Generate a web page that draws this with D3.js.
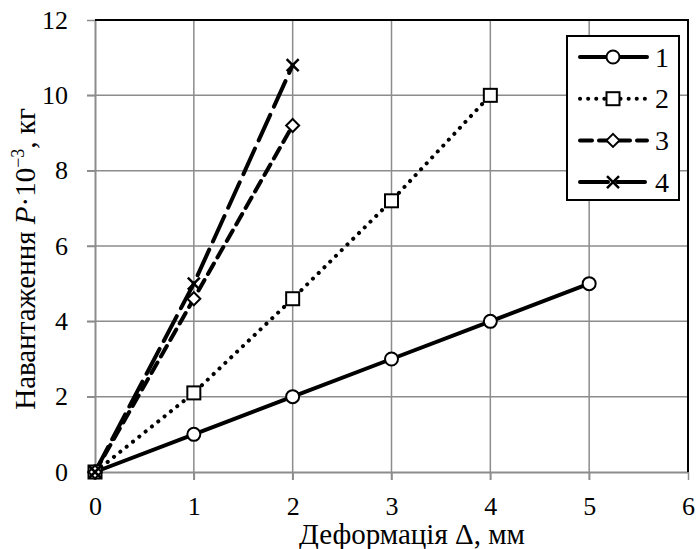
<!DOCTYPE html>
<html>
<head>
<meta charset="UTF-8">
<style>
  body { margin: 0; background: #fff; }
</style>
</head>
<body>
<svg width="700" height="549"></svg>
<script src="https://d3js.org/d3.v7.min.js"></script>
<script>
// дані
var xTicks = [0, 1, 2, 3, 4, 5, 6];
var yTicks = [0, 2, 4, 6, 8, 10, 12];
var seriesNames = ["1", "2", "3", "4"];
var x1 = [0, 1, 2, 3, 4, 5],  y1 = [0, 1, 2, 3, 4, 5];
var x2 = [0, 1, 2, 3, 4],     y2 = [0, 2.1, 4.6, 7.2, 10];
var x3 = [0, 1, 2],           y3 = [0, 4.6, 9.2];
var x4 = [0, 1, 2],           y4 = [0, 5, 10.8];

var svg = d3.select("svg");
var x = d3.scaleLinear().domain([0, 6]).range([95, 688]);
var y = d3.scaleLinear().domain([0, 12]).range([472, 20]);

// сітка
svg.append("g").selectAll("line").data(xTicks.slice(1, -1)).enter().append("line")
  .attr("x1", d => x(d)).attr("x2", d => x(d)).attr("y1", y(12)).attr("y2", y(0) + 8)
  .attr("stroke", "#8c8c8c").attr("stroke-width", 1.5);
svg.append("g").selectAll("line").data(yTicks.slice(1, -1)).enter().append("line")
  .attr("x1", x(0) - 8).attr("x2", x(6)).attr("y1", d => y(d)).attr("y2", d => y(d))
  .attr("stroke", "#8c8c8c").attr("stroke-width", 1.5);

// осі
var xAxis = svg.append("g").attr("transform", "translate(0," + y(0) + ")")
  .call(d3.axisBottom(x).tickValues(xTicks).tickFormat(d3.format("d"))
    .tickSize(8).tickPadding(17).tickSizeOuter(0));
var yAxis = svg.append("g").attr("transform", "translate(" + x(0) + ",0)")
  .call(d3.axisLeft(y).tickValues(yTicks).tickFormat(d3.format("d"))
    .tickSize(8).tickPadding(19).tickSizeOuter(0));
[xAxis, yAxis].forEach(function (a) {
  a.select(".domain").attr("stroke", "#8c8c8c").attr("stroke-width", 2);
  a.selectAll(".tick line").attr("stroke", "#8c8c8c").attr("stroke-width", 1.5);
  a.selectAll(".tick text").attr("font-size", 26).attr("fill", "#000");
});

// рамка зверху і справа
svg.append("path")
  .attr("d", "M" + x(0) + "," + y(12) + "H" + x(6) + "V" + y(0))
  .attr("fill", "none").attr("stroke", "#000").attr("stroke-width", 2);

// серії
var series = [
  { name: seriesNames[0], xs: x1, ys: y1, dash: null, mark: "circle" },
  { name: seriesNames[1], xs: x2, ys: y2, dash: "0.1,8", mark: "square" },
  { name: seriesNames[2], xs: x3, ys: y3, dash: "12,7", mark: "diamond" },
  { name: seriesNames[3], xs: x4, ys: y4, dash: "28,9", mark: "cross" }
];

var line = d3.line().x(d => x(d[0])).y(d => y(d[1]));

function drawMark(g, type, cx, cy) {
  if (type === "circle") {
    g.append("circle").attr("cx", cx).attr("cy", cy).attr("r", 6.5)
      .attr("fill", "#fff").attr("stroke", "#000").attr("stroke-width", 2);
  } else if (type === "square") {
    g.append("rect").attr("x", cx - 6.5).attr("y", cy - 6.5).attr("width", 13).attr("height", 13)
      .attr("fill", "#fff").attr("stroke", "#000").attr("stroke-width", 2);
  } else if (type === "diamond") {
    g.append("path").attr("d", "M" + cx + "," + (cy - 6.5) + "L" + (cx + 6.5) + "," + cy +
        "L" + cx + "," + (cy + 6.5) + "L" + (cx - 6.5) + "," + cy + "Z")
      .attr("fill", "#fff").attr("stroke", "#000").attr("stroke-width", 2);
  } else {
    g.append("path").attr("d", "M" + (cx - 6) + "," + (cy - 6) + "L" + (cx + 6) + "," + (cy + 6) +
        "M" + (cx + 6) + "," + (cy - 6) + "L" + (cx - 6) + "," + (cy + 6))
      .attr("fill", "none").attr("stroke", "#000").attr("stroke-width", 2.5);
  }
}

series.forEach(function (s) {
  var pts = s.xs.map((v, i) => [v, s.ys[i]]);
  svg.append("path").datum(pts).attr("d", line)
    .attr("fill", "none").attr("stroke", "#000").attr("stroke-width", 4)
    .attr("stroke-linecap", "round")
    .attr("stroke-dasharray", s.dash);
});
series.forEach(function (s) {
  var g = svg.append("g");
  s.xs.forEach(function (v, i) { drawMark(g, s.mark, x(v), y(s.ys[i])); });
});

// легенда
var leg = svg.append("g");
leg.append("rect").attr("x", 567).attr("y", 36).attr("width", 112).attr("height", 164)
  .attr("fill", "#fff").attr("stroke", "#000").attr("stroke-width", 2);
series.forEach(function (s, i) {
  var ly = 57 + i * 41.7;
  leg.append("line").attr("x1", 580).attr("x2", 647).attr("y1", ly).attr("y2", ly)
    .attr("stroke", "#000").attr("stroke-width", 4).attr("stroke-linecap", "round")
    .attr("stroke-dasharray", s.dash);
  drawMark(leg, s.mark, 613, ly);
  leg.append("text").attr("x", 655).attr("y", ly + 9.5).attr("font-size", 28).text(s.name);
});

// підписи осей
svg.append("text").attr("x", 412).attr("y", 544).attr("text-anchor", "middle")
  .attr("font-size", 29).text("Деформація Δ, мм");

var yt = svg.append("text").attr("transform", "translate(35,259) rotate(-90)")
  .attr("text-anchor", "middle").attr("font-size", 29);
yt.append("tspan").text("Навантаження ");
yt.append("tspan").attr("font-style", "italic").text("P");
yt.append("tspan").text("·10");
yt.append("tspan").attr("font-size", 18).attr("dy", -11).text("−3");
yt.append("tspan").attr("dy", 11).text(", кг");

// шрифт для всіх підписів
svg.selectAll("text").attr("font-family", "Liberation Serif").attr("fill", "#000");
</script>
</body>
</html>
